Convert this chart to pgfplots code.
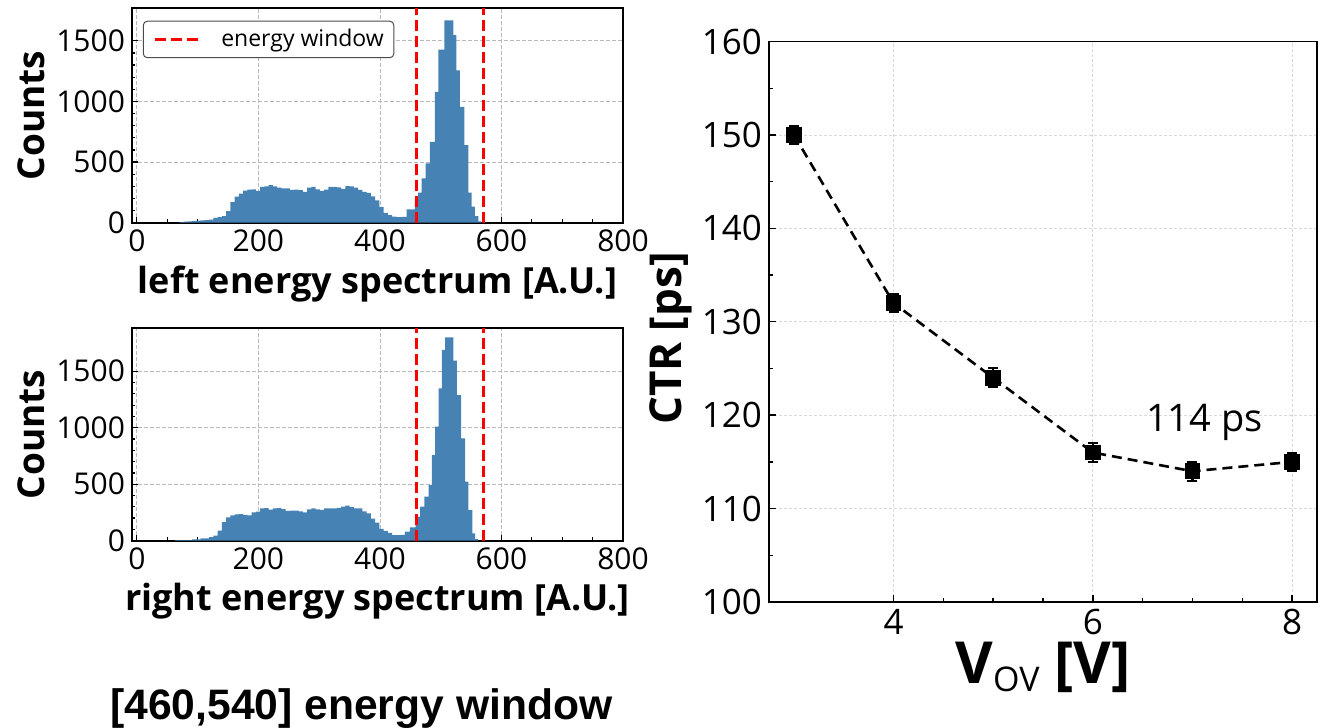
\documentclass[border=0pt]{standalone}
\usepackage{fontspec}
\setmainfont{Open Sans}
\newfontfamily\arialfont{Liberation Sans}
\usepackage{pgfplots}
\usepackage{pgfplotstable}
\pgfplotsset{compat=1.18}
\definecolor{histblue}{RGB}{70,130,180}

\pgfplotstableread{
x y
70 5
77 8
84 10
91 12
98 18
105 20
112 22
119 25
126 40
133 45
140 55
147 95
154 170
161 215
168 240
175 265
182 272
189 275
196 262
203 295
210 300
217 310
224 300
231 290
238 283
245 283
252 270
259 272
266 268
273 255
280 290
287 296
294 275
301 262
308 272
315 296
322 295
329 292
336 278
343 302
350 300
357 290
364 270
371 255
378 245
385 218
392 185
399 130
406 80
413 62
420 50
427 46
434 48
444 110
457.6 200
463 247
468.6 365
475 489
482 667
490.5 1079
496 1428
506 1669
520.7 1546
526 1257
531.7 955
538.8 640
545.4 247
550.9 132
556.3 55
561.8 10
566 0
}\lefthist

\pgfplotstableread{
x y
63 4
70 5
77 5
84 6
91 12
98 12
105 20
112 21
119 32
126 44
133 90
140 165
147 207
154 225
161 233
168 235
175 228
182 225
189 250
196 258
203 285
210 288
217 275
224 287
231 288
238 280
245 263
252 266
259 266
266 260
273 250
280 278
287 287
294 278
301 272
308 287
315 287
322 285
329 290
336 301
343 310
350 298
357 287
364 285
371 260
378 242
385 195
392 160
399 105
406 88
413 70
420 50
427 50
434 52
441 80
449.4 118
458.7 212
466 301
473 389
480 493
485.4 758
490.9 1009
496.4 1349
501.9 1688
507.3 1800
521 1593
526.5 1289
533.6 906
540.2 522
545.7 271
552.2 65
556.6 15
561 0
}\righthist

\pgfplotsset{
  histax/.style={
    scale only axis, anchor=south west,
    width=245.5pt,
    xmin=-8, xmax=800, ymin=0,
    xtick={0,200,400,600,800}, ytick={0,500,1000,1500},
    minor x tick num=3, minor y tick num=4,
    tick pos=left, tick align=inside,
    major tick length=3pt, minor tick length=1.7pt,
    every tick/.style={black, line width=0.6pt},
    axis line style={line width=0.9pt},
    grid=major,
    major grid style={gray!55, line width=0.4pt, dash pattern=on 1.8pt off 1.2pt},
    /pgf/number format/assume math mode=true,
    /pgf/number format/1000 sep={},
    ticklabel style={font=\fontsize{15}{15}\selectfont},
    xlabel style={font=\bfseries\fontsize{18}{18}\selectfont, yshift=0pt},
    ylabel style={font=\bfseries\fontsize{18.5}{18.5}\selectfont, yshift=-1pt},
    ylabel={Counts},
  },
  winline/.style={red, line width=1.3pt, dash pattern=on 5.5pt off 2.5pt},
}

\begin{document}
\begin{tikzpicture}
\useasboundingbox (0,0) rectangle (664.5pt,364pt);

% top-left histogram
\begin{axis}[histax,
  at={(66pt,252.65pt)}, height=107.2pt, ymax=1768,
  xlabel={left energy spectrum [A.U.]},
  legend style={at={(axis description cs:0.022,0.942)}, anchor=north west,
    rounded corners=2pt, draw=black!70, line width=0.5pt,
    font=\fontsize{11.5}{12}\selectfont,
    nodes={inner sep=0pt}, column sep=10pt, inner xsep=5pt, inner ysep=4pt},
  legend image code/.code={\draw[#1] (0pt,0pt) -- (22.7pt,0pt);},
]
\addplot[const plot, fill=histblue, draw=none, forget plot] table[x=x,y=y] {\lefthist} \closedcycle;
\addplot[winline] coordinates {(460,0) (460,1768)};
\addlegendentry{energy window}
\addplot[winline, forget plot] coordinates {(570,0) (570,1768)};
\end{axis}

% bottom-left histogram
\begin{axis}[histax,
  at={(66pt,93.65pt)}, height=106.2pt, ymax=1880,
  xlabel={right energy spectrum [A.U.]},
]
\addplot[const plot, fill=histblue, draw=none] table[x=x,y=y] {\righthist} \closedcycle;
\addplot[winline] coordinates {(460,0) (460,1880)};
\addplot[winline] coordinates {(570,0) (570,1880)};
\end{axis}

% right CTR plot
\begin{axis}[
  at={(384.5pt,63pt)}, anchor=south west, scale only axis,
  width=274pt, height=280.25pt,
  xmin=2.75, xmax=8.25, ymin=100, ymax=160,
  xtick={4,6,8}, ytick={100,110,...,160},
  minor x tick num=3, minor y tick num=1,
  tick pos=left, tick align=inside,
  major tick length=3.5pt, minor tick length=2pt,
  every tick/.style={black, line width=0.7pt},
  axis line style={line width=0.9pt},
  grid=major,
  major grid style={gray!30, line width=0.4pt, dash pattern=on 1.5pt off 1pt},
  /pgf/number format/assume math mode=true,
  ticklabel style={font=\fontsize{17.5}{17.5}\selectfont},
  xlabel={\bfseries V\raisebox{-0.25ex}{\mdseries\fontsize{17}{17}\selectfont OV} [V]},
  ylabel={CTR [ps]},
  xlabel style={font=\bfseries\fontsize{29}{29}\selectfont, yshift=3pt},
  ylabel style={at={(ticklabel cs:0.47)}, font=\bfseries\fontsize{22}{22}\selectfont, yshift=-2pt},
]
\addplot[black, line width=1.3pt, dash pattern=on 5pt off 3pt,
  mark=square*, mark size=3.3pt, mark options={solid},
  error bars/.cd, y dir=both, y explicit,
  error bar style={solid, line width=1.1pt},
  error mark options={rotate=90, mark size=2.5pt, line width=1pt, solid}]
coordinates {
(3,150) +- (0,1)
(4,132) +- (0,1)
(5,124) +- (0,1)
(6,116) +- (0,1)
(7,114) +- (0,1)
(8,115) +- (0,1)
};
\node[font=\fontsize{19}{19}\selectfont] at (axis cs:7.12,119.2) {114 ps};
\end{axis}

\node[anchor=base west, font=\arialfont\bfseries\fontsize{21.3}{21.3}\selectfont, inner sep=0pt] at (55pt,4pt) {[460,540] energy window};
\end{tikzpicture}
\end{document}
